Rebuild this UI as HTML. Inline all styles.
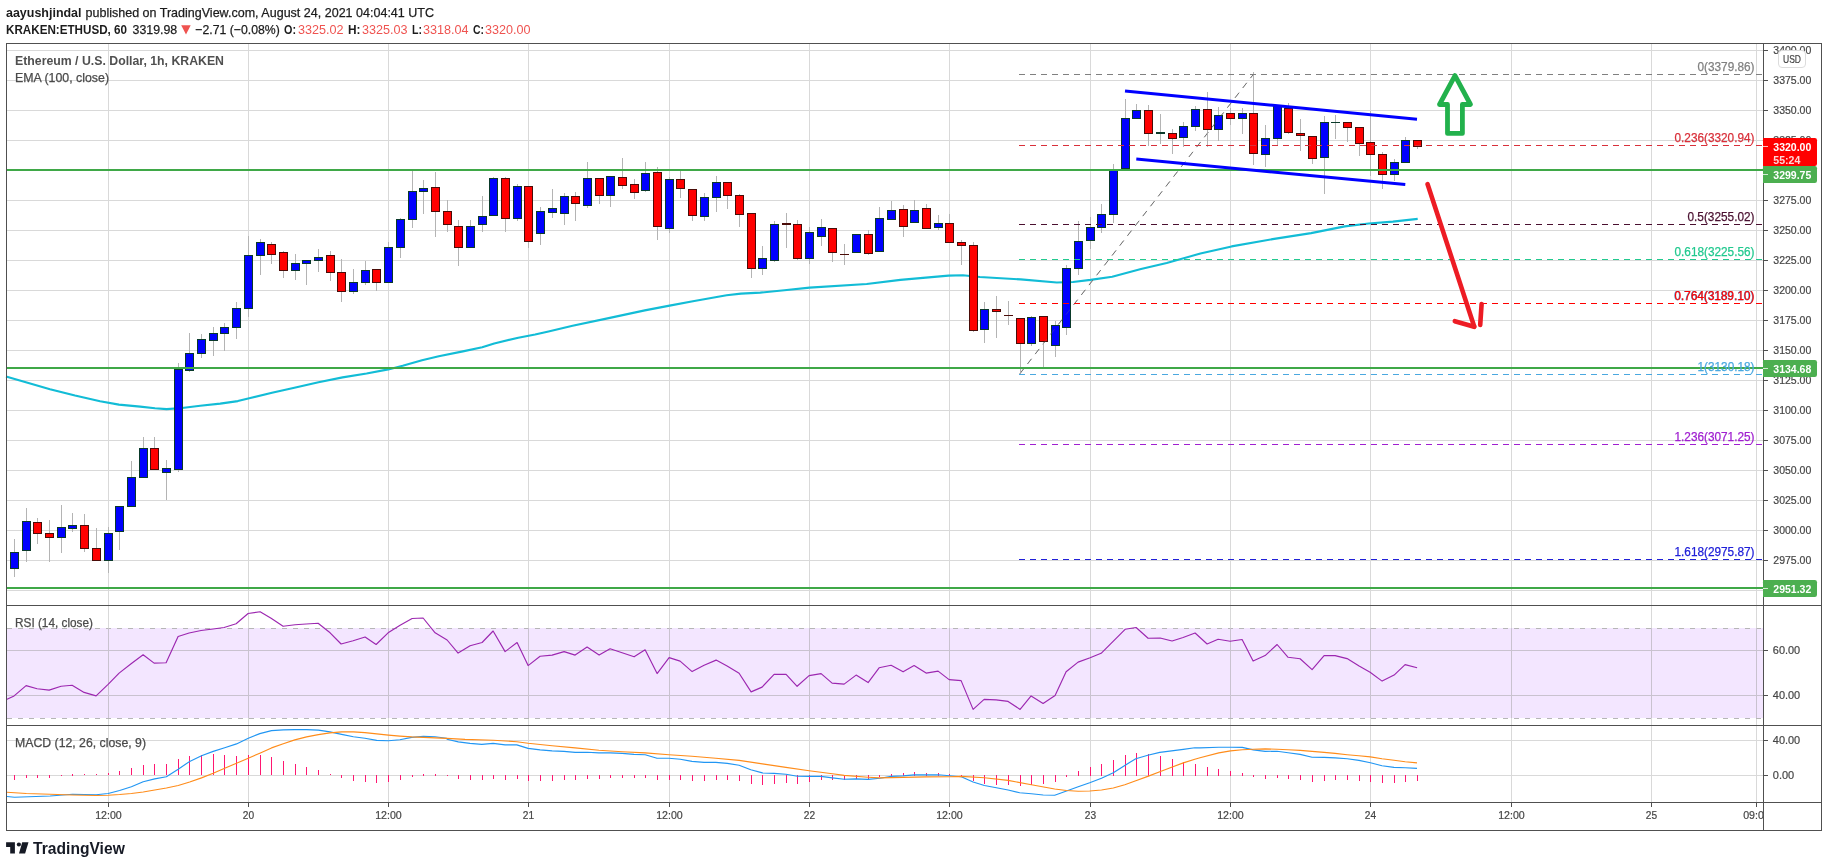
<!DOCTYPE html><html><head><meta charset="utf-8"><title>ETHUSD</title>
<style>html,body{margin:0;padding:0;background:#fff}body{width:1828px;height:867px;overflow:hidden;font-family:"Liberation Sans",sans-serif}svg{display:block;position:absolute;left:0;top:0;will-change:transform}text{font-family:"Liberation Sans",sans-serif}</style></head><body>
<svg width="1828" height="867" viewBox="0 0 1828 867">
<rect x="0" y="0" width="1828" height="867" fill="#fff"/>
<g shape-rendering="crispEdges" stroke="#d9d9d9" stroke-width="1">
<line x1="108.5" y1="44" x2="108.5" y2="802"/>
<line x1="248.5" y1="44" x2="248.5" y2="802"/>
<line x1="388.5" y1="44" x2="388.5" y2="802"/>
<line x1="528.5" y1="44" x2="528.5" y2="802"/>
<line x1="669.5" y1="44" x2="669.5" y2="802"/>
<line x1="809.5" y1="44" x2="809.5" y2="802"/>
<line x1="949.5" y1="44" x2="949.5" y2="802"/>
<line x1="1090.5" y1="44" x2="1090.5" y2="802"/>
<line x1="1230.5" y1="44" x2="1230.5" y2="802"/>
<line x1="1370.5" y1="44" x2="1370.5" y2="802"/>
<line x1="1511.5" y1="44" x2="1511.5" y2="802"/>
<line x1="1651.5" y1="44" x2="1651.5" y2="802"/>
<line x1="1756.5" y1="44" x2="1756.5" y2="802"/>
<line x1="7" y1="50.5" x2="1763" y2="50.5"/>
<line x1="7" y1="80.5" x2="1763" y2="80.5"/>
<line x1="7" y1="110.5" x2="1763" y2="110.5"/>
<line x1="7" y1="140.5" x2="1763" y2="140.5"/>
<line x1="7" y1="170.5" x2="1763" y2="170.5"/>
<line x1="7" y1="200.5" x2="1763" y2="200.5"/>
<line x1="7" y1="230.5" x2="1763" y2="230.5"/>
<line x1="7" y1="260.5" x2="1763" y2="260.5"/>
<line x1="7" y1="290.5" x2="1763" y2="290.5"/>
<line x1="7" y1="320.5" x2="1763" y2="320.5"/>
<line x1="7" y1="350.5" x2="1763" y2="350.5"/>
<line x1="7" y1="380.5" x2="1763" y2="380.5"/>
<line x1="7" y1="410.5" x2="1763" y2="410.5"/>
<line x1="7" y1="440.5" x2="1763" y2="440.5"/>
<line x1="7" y1="470.5" x2="1763" y2="470.5"/>
<line x1="7" y1="500.5" x2="1763" y2="500.5"/>
<line x1="7" y1="530.5" x2="1763" y2="530.5"/>
<line x1="7" y1="560.5" x2="1763" y2="560.5"/>
<line x1="7" y1="590.5" x2="1763" y2="590.5"/>
</g>
<rect x="7" y="628" width="1756" height="90" fill="#9b30ff" fill-opacity="0.12"/>
<g shape-rendering="crispEdges" stroke="#c9c2cf" stroke-width="1">
<line x1="7" y1="650.5" x2="1763" y2="650.5"/>
<line x1="7" y1="695.5" x2="1763" y2="695.5"/>
</g>
<g shape-rendering="crispEdges" stroke="#d9d9d9" stroke-width="1">
<line x1="7" y1="740.5" x2="1763" y2="740.5"/>
<line x1="7" y1="775.5" x2="1763" y2="775.5"/>
</g>
<g shape-rendering="crispEdges" stroke="#b6b6b6" stroke-width="1" stroke-dasharray="5,6">
<line x1="7" y1="628.5" x2="1763" y2="628.5"/>
<line x1="7" y1="718.5" x2="1763" y2="718.5"/>
</g>
<g shape-rendering="crispEdges" stroke="#c9c2cf" stroke-width="1">
<line x1="108.5" y1="628" x2="108.5" y2="718"/>
<line x1="248.5" y1="628" x2="248.5" y2="718"/>
<line x1="388.5" y1="628" x2="388.5" y2="718"/>
<line x1="528.5" y1="628" x2="528.5" y2="718"/>
<line x1="669.5" y1="628" x2="669.5" y2="718"/>
<line x1="809.5" y1="628" x2="809.5" y2="718"/>
<line x1="949.5" y1="628" x2="949.5" y2="718"/>
<line x1="1090.5" y1="628" x2="1090.5" y2="718"/>
<line x1="1230.5" y1="628" x2="1230.5" y2="718"/>
<line x1="1370.5" y1="628" x2="1370.5" y2="718"/>
<line x1="1511.5" y1="628" x2="1511.5" y2="718"/>
<line x1="1651.5" y1="628" x2="1651.5" y2="718"/>
<line x1="1756.5" y1="628" x2="1756.5" y2="718"/>
</g>
<polyline fill="none" stroke="#12bcd6" stroke-width="2.1" stroke-linejoin="round" points="6.0,376.5 25.0,382.1 50.0,389.3 75.0,395.6 100.1,401.3 118.9,404.6 140.2,406.6 155.0,408.2 166.6,409.1 182.0,408.0 200.2,405.8 220.2,403.6 237.8,401.1 250.3,398.0 272.0,392.8 294.4,387.7 318.5,382.3 342.6,377.4 366.6,373.5 388.3,369.4 402.7,365.8 422.0,360.3 438.8,356.2 462.9,351.4 482.2,347.3 494.2,343.4 518.3,337.7 535.1,334.5 548.5,331.4 572.6,325.8 608.7,318.1 644.8,310.4 669.6,305.6 692.9,301.3 726.6,295.3 741.0,293.6 760.3,292.6 784.4,290.2 809.6,287.6 866.7,284.0 900.4,279.9 948.5,275.6 962.9,275.3 979.8,277.0 1020.7,279.4 1056.8,282.5 1073.0,282.0 1090.5,279.9 1112.2,276.8 1141.0,269.1 1166.7,263.0 1200.4,253.6 1231.6,246.4 1272.6,239.1 1311.1,233.1 1344.8,226.4 1368.8,223.5 1392.9,221.6 1417.7,218.9"/>
<line x1="1019.8" y1="373.8" x2="1253.4" y2="74.3" stroke="#727272" stroke-width="1.0" stroke-dasharray="6.5,6"/>
<g shape-rendering="crispEdges">
<rect x="14" y="539" width="1" height="38" fill="#b4b4b4"/>
<rect x="26" y="508" width="1" height="54" fill="#b4b4b4"/>
<rect x="37" y="518" width="1" height="26" fill="#b4b4b4"/>
<rect x="49" y="520" width="1" height="42" fill="#b4b4b4"/>
<rect x="61" y="505" width="1" height="48" fill="#b4b4b4"/>
<rect x="72" y="513" width="1" height="19" fill="#b4b4b4"/>
<rect x="84" y="514" width="1" height="38" fill="#b4b4b4"/>
<rect x="96" y="528" width="1" height="33" fill="#b4b4b4"/>
<rect x="108" y="527" width="1" height="46" fill="#b4b4b4"/>
<rect x="119" y="506" width="1" height="44" fill="#b4b4b4"/>
<rect x="131" y="461" width="1" height="46" fill="#b4b4b4"/>
<rect x="143" y="437" width="1" height="41" fill="#b4b4b4"/>
<rect x="154" y="437" width="1" height="33" fill="#b4b4b4"/>
<rect x="166" y="460" width="1" height="40" fill="#b4b4b4"/>
<rect x="178" y="363" width="1" height="109" fill="#b4b4b4"/>
<rect x="189" y="333" width="1" height="39" fill="#b4b4b4"/>
<rect x="201" y="334" width="1" height="24" fill="#b4b4b4"/>
<rect x="213" y="327" width="1" height="29" fill="#b4b4b4"/>
<rect x="224" y="323" width="1" height="28" fill="#b4b4b4"/>
<rect x="236" y="302" width="1" height="37" fill="#b4b4b4"/>
<rect x="248" y="236" width="1" height="81" fill="#b4b4b4"/>
<rect x="260" y="239" width="1" height="36" fill="#b4b4b4"/>
<rect x="271" y="242" width="1" height="22" fill="#b4b4b4"/>
<rect x="283" y="251" width="1" height="27" fill="#b4b4b4"/>
<rect x="295" y="254" width="1" height="26" fill="#b4b4b4"/>
<rect x="306" y="260" width="1" height="25" fill="#b4b4b4"/>
<rect x="318" y="249" width="1" height="23" fill="#b4b4b4"/>
<rect x="330" y="251" width="1" height="30" fill="#b4b4b4"/>
<rect x="341" y="259" width="1" height="43" fill="#b4b4b4"/>
<rect x="353" y="269" width="1" height="25" fill="#b4b4b4"/>
<rect x="365" y="261" width="1" height="24" fill="#b4b4b4"/>
<rect x="376" y="269" width="1" height="22" fill="#b4b4b4"/>
<rect x="388" y="242" width="1" height="41" fill="#b4b4b4"/>
<rect x="400" y="218" width="1" height="40" fill="#b4b4b4"/>
<rect x="412" y="171" width="1" height="57" fill="#b4b4b4"/>
<rect x="423" y="180" width="1" height="34" fill="#b4b4b4"/>
<rect x="435" y="172" width="1" height="65" fill="#b4b4b4"/>
<rect x="447" y="200" width="1" height="32" fill="#b4b4b4"/>
<rect x="458" y="220" width="1" height="46" fill="#b4b4b4"/>
<rect x="470" y="220" width="1" height="28" fill="#b4b4b4"/>
<rect x="482" y="196" width="1" height="36" fill="#b4b4b4"/>
<rect x="493" y="177" width="1" height="39" fill="#b4b4b4"/>
<rect x="505" y="177" width="1" height="55" fill="#b4b4b4"/>
<rect x="517" y="184" width="1" height="37" fill="#b4b4b4"/>
<rect x="528" y="186" width="1" height="62" fill="#b4b4b4"/>
<rect x="540" y="207" width="1" height="38" fill="#b4b4b4"/>
<rect x="552" y="189" width="1" height="29" fill="#b4b4b4"/>
<rect x="564" y="193" width="1" height="32" fill="#b4b4b4"/>
<rect x="575" y="192" width="1" height="29" fill="#b4b4b4"/>
<rect x="587" y="162" width="1" height="46" fill="#b4b4b4"/>
<rect x="599" y="178" width="1" height="26" fill="#b4b4b4"/>
<rect x="610" y="176" width="1" height="31" fill="#b4b4b4"/>
<rect x="622" y="158" width="1" height="31" fill="#b4b4b4"/>
<rect x="634" y="179" width="1" height="20" fill="#b4b4b4"/>
<rect x="645" y="162" width="1" height="30" fill="#b4b4b4"/>
<rect x="657" y="167" width="1" height="73" fill="#b4b4b4"/>
<rect x="669" y="177" width="1" height="56" fill="#b4b4b4"/>
<rect x="680" y="171" width="1" height="27" fill="#b4b4b4"/>
<rect x="692" y="189" width="1" height="32" fill="#b4b4b4"/>
<rect x="704" y="193" width="1" height="28" fill="#b4b4b4"/>
<rect x="716" y="176" width="1" height="36" fill="#b4b4b4"/>
<rect x="727" y="182" width="1" height="27" fill="#b4b4b4"/>
<rect x="739" y="194" width="1" height="33" fill="#b4b4b4"/>
<rect x="751" y="213" width="1" height="65" fill="#b4b4b4"/>
<rect x="762" y="246" width="1" height="29" fill="#b4b4b4"/>
<rect x="774" y="221" width="1" height="41" fill="#b4b4b4"/>
<rect x="786" y="213" width="1" height="35" fill="#b4b4b4"/>
<rect x="797" y="220" width="1" height="40" fill="#b4b4b4"/>
<rect x="809" y="227" width="1" height="37" fill="#b4b4b4"/>
<rect x="821" y="219" width="1" height="27" fill="#b4b4b4"/>
<rect x="832" y="228" width="1" height="34" fill="#b4b4b4"/>
<rect x="844" y="244" width="1" height="21" fill="#b4b4b4"/>
<rect x="856" y="234" width="1" height="19" fill="#b4b4b4"/>
<rect x="868" y="230" width="1" height="25" fill="#b4b4b4"/>
<rect x="879" y="207" width="1" height="45" fill="#b4b4b4"/>
<rect x="891" y="201" width="1" height="19" fill="#b4b4b4"/>
<rect x="903" y="205" width="1" height="32" fill="#b4b4b4"/>
<rect x="914" y="200" width="1" height="23" fill="#b4b4b4"/>
<rect x="926" y="204" width="1" height="25" fill="#b4b4b4"/>
<rect x="938" y="215" width="1" height="15" fill="#b4b4b4"/>
<rect x="949" y="214" width="1" height="29" fill="#b4b4b4"/>
<rect x="961" y="240" width="1" height="25" fill="#b4b4b4"/>
<rect x="973" y="242" width="1" height="90" fill="#b4b4b4"/>
<rect x="984" y="302" width="1" height="41" fill="#b4b4b4"/>
<rect x="996" y="296" width="1" height="42" fill="#b4b4b4"/>
<rect x="1008" y="301" width="1" height="24" fill="#b4b4b4"/>
<rect x="1020" y="318" width="1" height="56" fill="#b4b4b4"/>
<rect x="1031" y="316" width="1" height="30" fill="#b4b4b4"/>
<rect x="1043" y="316" width="1" height="52" fill="#b4b4b4"/>
<rect x="1055" y="321" width="1" height="36" fill="#b4b4b4"/>
<rect x="1066" y="265" width="1" height="70" fill="#b4b4b4"/>
<rect x="1078" y="221" width="1" height="54" fill="#b4b4b4"/>
<rect x="1090" y="217" width="1" height="32" fill="#b4b4b4"/>
<rect x="1101" y="204" width="1" height="29" fill="#b4b4b4"/>
<rect x="1113" y="164" width="1" height="59" fill="#b4b4b4"/>
<rect x="1125" y="99" width="1" height="71" fill="#b4b4b4"/>
<rect x="1136" y="104" width="1" height="15" fill="#b4b4b4"/>
<rect x="1148" y="105" width="1" height="41" fill="#b4b4b4"/>
<rect x="1160" y="114" width="1" height="30" fill="#b4b4b4"/>
<rect x="1172" y="129" width="1" height="25" fill="#b4b4b4"/>
<rect x="1183" y="122" width="1" height="25" fill="#b4b4b4"/>
<rect x="1195" y="106" width="1" height="25" fill="#b4b4b4"/>
<rect x="1207" y="92" width="1" height="55" fill="#b4b4b4"/>
<rect x="1218" y="107" width="1" height="34" fill="#b4b4b4"/>
<rect x="1230" y="108" width="1" height="17" fill="#b4b4b4"/>
<rect x="1242" y="108" width="1" height="26" fill="#b4b4b4"/>
<rect x="1253" y="72" width="1" height="93" fill="#b4b4b4"/>
<rect x="1265" y="125" width="1" height="42" fill="#b4b4b4"/>
<rect x="1277" y="105" width="1" height="41" fill="#b4b4b4"/>
<rect x="1288" y="103" width="1" height="31" fill="#b4b4b4"/>
<rect x="1300" y="119" width="1" height="32" fill="#b4b4b4"/>
<rect x="1312" y="136" width="1" height="28" fill="#b4b4b4"/>
<rect x="1324" y="116" width="1" height="78" fill="#b4b4b4"/>
<rect x="1335" y="115" width="1" height="24" fill="#b4b4b4"/>
<rect x="1347" y="122" width="1" height="20" fill="#b4b4b4"/>
<rect x="1359" y="127" width="1" height="29" fill="#b4b4b4"/>
<rect x="1370" y="111" width="1" height="65" fill="#b4b4b4"/>
<rect x="1382" y="152" width="1" height="37" fill="#b4b4b4"/>
<rect x="1394" y="159" width="1" height="22" fill="#b4b4b4"/>
<rect x="1405" y="137" width="1" height="26" fill="#b4b4b4"/>
<rect x="1417" y="140" width="1" height="9" fill="#b4b4b4"/>
<rect x="10" y="552" width="9" height="17" fill="#0a3a2a"/>
<rect x="11" y="553" width="7" height="15" fill="#0000ff"/>
<rect x="22" y="521" width="9" height="30" fill="#0a3a2a"/>
<rect x="23" y="522" width="7" height="28" fill="#0000ff"/>
<rect x="33" y="522" width="9" height="12" fill="#4a0c08"/>
<rect x="34" y="523" width="7" height="10" fill="#ff0000"/>
<rect x="45" y="533" width="9" height="5" fill="#4a0c08"/>
<rect x="46" y="534" width="7" height="3" fill="#ff0000"/>
<rect x="57" y="527" width="9" height="11" fill="#0a3a2a"/>
<rect x="58" y="528" width="7" height="9" fill="#0000ff"/>
<rect x="68" y="525" width="9" height="4" fill="#0a3a2a"/>
<rect x="69" y="526" width="7" height="2" fill="#0000ff"/>
<rect x="80" y="525" width="9" height="24" fill="#4a0c08"/>
<rect x="81" y="526" width="7" height="22" fill="#ff0000"/>
<rect x="92" y="548" width="9" height="13" fill="#4a0c08"/>
<rect x="93" y="549" width="7" height="11" fill="#ff0000"/>
<rect x="104" y="533" width="9" height="28" fill="#0a3a2a"/>
<rect x="105" y="534" width="7" height="26" fill="#0000ff"/>
<rect x="115" y="506" width="9" height="26" fill="#0a3a2a"/>
<rect x="116" y="507" width="7" height="24" fill="#0000ff"/>
<rect x="127" y="477" width="9" height="30" fill="#0a3a2a"/>
<rect x="128" y="478" width="7" height="28" fill="#0000ff"/>
<rect x="139" y="448" width="9" height="30" fill="#0a3a2a"/>
<rect x="140" y="449" width="7" height="28" fill="#0000ff"/>
<rect x="150" y="448" width="9" height="22" fill="#4a0c08"/>
<rect x="151" y="449" width="7" height="20" fill="#ff0000"/>
<rect x="162" y="468" width="9" height="5" fill="#0a3a2a"/>
<rect x="163" y="469" width="7" height="3" fill="#0000ff"/>
<rect x="174" y="369" width="9" height="101" fill="#0a3a2a"/>
<rect x="175" y="370" width="7" height="99" fill="#0000ff"/>
<rect x="185" y="353" width="9" height="18" fill="#0a3a2a"/>
<rect x="186" y="354" width="7" height="16" fill="#0000ff"/>
<rect x="197" y="339" width="9" height="15" fill="#0a3a2a"/>
<rect x="198" y="340" width="7" height="13" fill="#0000ff"/>
<rect x="209" y="333" width="9" height="8" fill="#0a3a2a"/>
<rect x="210" y="334" width="7" height="6" fill="#0000ff"/>
<rect x="220" y="327" width="9" height="7" fill="#0a3a2a"/>
<rect x="221" y="328" width="7" height="5" fill="#0000ff"/>
<rect x="232" y="308" width="9" height="20" fill="#0a3a2a"/>
<rect x="233" y="309" width="7" height="18" fill="#0000ff"/>
<rect x="244" y="255" width="9" height="54" fill="#0a3a2a"/>
<rect x="245" y="256" width="7" height="52" fill="#0000ff"/>
<rect x="256" y="242" width="9" height="14" fill="#0a3a2a"/>
<rect x="257" y="243" width="7" height="12" fill="#0000ff"/>
<rect x="267" y="244" width="9" height="11" fill="#4a0c08"/>
<rect x="268" y="245" width="7" height="9" fill="#ff0000"/>
<rect x="279" y="252" width="9" height="19" fill="#4a0c08"/>
<rect x="280" y="253" width="7" height="17" fill="#ff0000"/>
<rect x="291" y="263" width="9" height="8" fill="#0a3a2a"/>
<rect x="292" y="264" width="7" height="6" fill="#0000ff"/>
<rect x="302" y="260" width="9" height="4" fill="#0a3a2a"/>
<rect x="303" y="261" width="7" height="2" fill="#0000ff"/>
<rect x="314" y="257" width="9" height="4" fill="#0a3a2a"/>
<rect x="315" y="258" width="7" height="2" fill="#0000ff"/>
<rect x="326" y="255" width="9" height="18" fill="#4a0c08"/>
<rect x="327" y="256" width="7" height="16" fill="#ff0000"/>
<rect x="337" y="272" width="9" height="20" fill="#4a0c08"/>
<rect x="338" y="273" width="7" height="18" fill="#ff0000"/>
<rect x="349" y="282" width="9" height="10" fill="#0a3a2a"/>
<rect x="350" y="283" width="7" height="8" fill="#0000ff"/>
<rect x="361" y="270" width="9" height="13" fill="#0a3a2a"/>
<rect x="362" y="271" width="7" height="11" fill="#0000ff"/>
<rect x="372" y="269" width="9" height="14" fill="#4a0c08"/>
<rect x="373" y="270" width="7" height="12" fill="#ff0000"/>
<rect x="384" y="247" width="9" height="36" fill="#0a3a2a"/>
<rect x="385" y="248" width="7" height="34" fill="#0000ff"/>
<rect x="396" y="219" width="9" height="29" fill="#0a3a2a"/>
<rect x="397" y="220" width="7" height="27" fill="#0000ff"/>
<rect x="408" y="191" width="9" height="29" fill="#0a3a2a"/>
<rect x="409" y="192" width="7" height="27" fill="#0000ff"/>
<rect x="419" y="188" width="9" height="4" fill="#0a3a2a"/>
<rect x="420" y="189" width="7" height="2" fill="#0000ff"/>
<rect x="431" y="187" width="9" height="25" fill="#4a0c08"/>
<rect x="432" y="188" width="7" height="23" fill="#ff0000"/>
<rect x="443" y="211" width="9" height="14" fill="#4a0c08"/>
<rect x="444" y="212" width="7" height="12" fill="#ff0000"/>
<rect x="454" y="226" width="9" height="22" fill="#4a0c08"/>
<rect x="455" y="227" width="7" height="20" fill="#ff0000"/>
<rect x="466" y="226" width="9" height="22" fill="#0a3a2a"/>
<rect x="467" y="227" width="7" height="20" fill="#0000ff"/>
<rect x="478" y="216" width="9" height="9" fill="#0a3a2a"/>
<rect x="479" y="217" width="7" height="7" fill="#0000ff"/>
<rect x="489" y="178" width="9" height="38" fill="#0a3a2a"/>
<rect x="490" y="179" width="7" height="36" fill="#0000ff"/>
<rect x="501" y="178" width="9" height="41" fill="#4a0c08"/>
<rect x="502" y="179" width="7" height="39" fill="#ff0000"/>
<rect x="513" y="186" width="9" height="33" fill="#0a3a2a"/>
<rect x="514" y="187" width="7" height="31" fill="#0000ff"/>
<rect x="524" y="186" width="9" height="56" fill="#4a0c08"/>
<rect x="525" y="187" width="7" height="54" fill="#ff0000"/>
<rect x="536" y="211" width="9" height="23" fill="#0a3a2a"/>
<rect x="537" y="212" width="7" height="21" fill="#0000ff"/>
<rect x="548" y="208" width="9" height="5" fill="#0a3a2a"/>
<rect x="549" y="209" width="7" height="3" fill="#0000ff"/>
<rect x="560" y="196" width="9" height="18" fill="#0a3a2a"/>
<rect x="561" y="197" width="7" height="16" fill="#0000ff"/>
<rect x="571" y="196" width="9" height="8" fill="#4a0c08"/>
<rect x="572" y="197" width="7" height="6" fill="#ff0000"/>
<rect x="583" y="178" width="9" height="28" fill="#0a3a2a"/>
<rect x="584" y="179" width="7" height="26" fill="#0000ff"/>
<rect x="595" y="178" width="9" height="18" fill="#4a0c08"/>
<rect x="596" y="179" width="7" height="16" fill="#ff0000"/>
<rect x="606" y="176" width="9" height="20" fill="#0a3a2a"/>
<rect x="607" y="177" width="7" height="18" fill="#0000ff"/>
<rect x="618" y="177" width="9" height="9" fill="#4a0c08"/>
<rect x="619" y="178" width="7" height="7" fill="#ff0000"/>
<rect x="630" y="184" width="9" height="9" fill="#4a0c08"/>
<rect x="631" y="185" width="7" height="7" fill="#ff0000"/>
<rect x="641" y="173" width="9" height="18" fill="#0a3a2a"/>
<rect x="642" y="174" width="7" height="16" fill="#0000ff"/>
<rect x="653" y="172" width="9" height="55" fill="#4a0c08"/>
<rect x="654" y="173" width="7" height="53" fill="#ff0000"/>
<rect x="665" y="179" width="9" height="50" fill="#0a3a2a"/>
<rect x="666" y="180" width="7" height="48" fill="#0000ff"/>
<rect x="676" y="179" width="9" height="10" fill="#4a0c08"/>
<rect x="677" y="180" width="7" height="8" fill="#ff0000"/>
<rect x="688" y="189" width="9" height="27" fill="#4a0c08"/>
<rect x="689" y="190" width="7" height="25" fill="#ff0000"/>
<rect x="700" y="197" width="9" height="20" fill="#0a3a2a"/>
<rect x="701" y="198" width="7" height="18" fill="#0000ff"/>
<rect x="712" y="182" width="9" height="16" fill="#0a3a2a"/>
<rect x="713" y="183" width="7" height="14" fill="#0000ff"/>
<rect x="723" y="182" width="9" height="14" fill="#4a0c08"/>
<rect x="724" y="183" width="7" height="12" fill="#ff0000"/>
<rect x="735" y="195" width="9" height="20" fill="#4a0c08"/>
<rect x="736" y="196" width="7" height="18" fill="#ff0000"/>
<rect x="747" y="213" width="9" height="56" fill="#4a0c08"/>
<rect x="748" y="214" width="7" height="54" fill="#ff0000"/>
<rect x="758" y="258" width="9" height="11" fill="#0a3a2a"/>
<rect x="759" y="259" width="7" height="9" fill="#0000ff"/>
<rect x="770" y="224" width="9" height="37" fill="#0a3a2a"/>
<rect x="771" y="225" width="7" height="35" fill="#0000ff"/>
<rect x="782" y="223" width="9" height="2" fill="#4a0c08"/>
<rect x="793" y="224" width="9" height="35" fill="#4a0c08"/>
<rect x="794" y="225" width="7" height="33" fill="#ff0000"/>
<rect x="805" y="232" width="9" height="27" fill="#0a3a2a"/>
<rect x="806" y="233" width="7" height="25" fill="#0000ff"/>
<rect x="817" y="227" width="9" height="10" fill="#0a3a2a"/>
<rect x="818" y="228" width="7" height="8" fill="#0000ff"/>
<rect x="828" y="228" width="9" height="25" fill="#4a0c08"/>
<rect x="829" y="229" width="7" height="23" fill="#ff0000"/>
<rect x="840" y="254" width="9" height="1" fill="#4a0c08"/>
<rect x="852" y="234" width="9" height="19" fill="#0a3a2a"/>
<rect x="853" y="235" width="7" height="17" fill="#0000ff"/>
<rect x="864" y="234" width="9" height="20" fill="#4a0c08"/>
<rect x="865" y="235" width="7" height="18" fill="#ff0000"/>
<rect x="875" y="218" width="9" height="34" fill="#0a3a2a"/>
<rect x="876" y="219" width="7" height="32" fill="#0000ff"/>
<rect x="887" y="210" width="9" height="10" fill="#0a3a2a"/>
<rect x="888" y="211" width="7" height="8" fill="#0000ff"/>
<rect x="899" y="209" width="9" height="18" fill="#4a0c08"/>
<rect x="900" y="210" width="7" height="16" fill="#ff0000"/>
<rect x="910" y="210" width="9" height="13" fill="#0a3a2a"/>
<rect x="911" y="211" width="7" height="11" fill="#0000ff"/>
<rect x="922" y="208" width="9" height="21" fill="#4a0c08"/>
<rect x="923" y="209" width="7" height="19" fill="#ff0000"/>
<rect x="934" y="223" width="9" height="5" fill="#0a3a2a"/>
<rect x="935" y="224" width="7" height="3" fill="#0000ff"/>
<rect x="945" y="223" width="9" height="20" fill="#4a0c08"/>
<rect x="946" y="224" width="7" height="18" fill="#ff0000"/>
<rect x="957" y="242" width="9" height="4" fill="#4a0c08"/>
<rect x="958" y="243" width="7" height="2" fill="#ff0000"/>
<rect x="969" y="245" width="9" height="86" fill="#4a0c08"/>
<rect x="970" y="246" width="7" height="84" fill="#ff0000"/>
<rect x="980" y="309" width="9" height="21" fill="#0a3a2a"/>
<rect x="981" y="310" width="7" height="19" fill="#0000ff"/>
<rect x="992" y="309" width="9" height="3" fill="#4a0c08"/>
<rect x="993" y="310" width="7" height="1" fill="#ff0000"/>
<rect x="1004" y="315" width="9" height="1" fill="#4a0c08"/>
<rect x="1016" y="318" width="9" height="26" fill="#4a0c08"/>
<rect x="1017" y="319" width="7" height="24" fill="#ff0000"/>
<rect x="1027" y="317" width="9" height="27" fill="#0a3a2a"/>
<rect x="1028" y="318" width="7" height="25" fill="#0000ff"/>
<rect x="1039" y="316" width="9" height="26" fill="#4a0c08"/>
<rect x="1040" y="317" width="7" height="24" fill="#ff0000"/>
<rect x="1051" y="325" width="9" height="21" fill="#0a3a2a"/>
<rect x="1052" y="326" width="7" height="19" fill="#0000ff"/>
<rect x="1062" y="268" width="9" height="60" fill="#0a3a2a"/>
<rect x="1063" y="269" width="7" height="58" fill="#0000ff"/>
<rect x="1074" y="241" width="9" height="28" fill="#0a3a2a"/>
<rect x="1075" y="242" width="7" height="26" fill="#0000ff"/>
<rect x="1086" y="227" width="9" height="14" fill="#0a3a2a"/>
<rect x="1087" y="228" width="7" height="12" fill="#0000ff"/>
<rect x="1097" y="214" width="9" height="14" fill="#0a3a2a"/>
<rect x="1098" y="215" width="7" height="12" fill="#0000ff"/>
<rect x="1109" y="170" width="9" height="45" fill="#0a3a2a"/>
<rect x="1110" y="171" width="7" height="43" fill="#0000ff"/>
<rect x="1121" y="118" width="9" height="51" fill="#0a3a2a"/>
<rect x="1122" y="119" width="7" height="49" fill="#0000ff"/>
<rect x="1132" y="110" width="9" height="9" fill="#0a3a2a"/>
<rect x="1133" y="111" width="7" height="7" fill="#0000ff"/>
<rect x="1144" y="110" width="9" height="24" fill="#4a0c08"/>
<rect x="1145" y="111" width="7" height="22" fill="#ff0000"/>
<rect x="1156" y="132" width="9" height="2" fill="#0a3a2a"/>
<rect x="1168" y="133" width="9" height="6" fill="#4a0c08"/>
<rect x="1169" y="134" width="7" height="4" fill="#ff0000"/>
<rect x="1179" y="126" width="9" height="12" fill="#0a3a2a"/>
<rect x="1180" y="127" width="7" height="10" fill="#0000ff"/>
<rect x="1191" y="109" width="9" height="18" fill="#0a3a2a"/>
<rect x="1192" y="110" width="7" height="16" fill="#0000ff"/>
<rect x="1203" y="109" width="9" height="21" fill="#4a0c08"/>
<rect x="1204" y="110" width="7" height="19" fill="#ff0000"/>
<rect x="1214" y="115" width="9" height="15" fill="#0a3a2a"/>
<rect x="1215" y="116" width="7" height="13" fill="#0000ff"/>
<rect x="1226" y="113" width="9" height="6" fill="#4a0c08"/>
<rect x="1227" y="114" width="7" height="4" fill="#ff0000"/>
<rect x="1238" y="113" width="9" height="6" fill="#0a3a2a"/>
<rect x="1239" y="114" width="7" height="4" fill="#0000ff"/>
<rect x="1249" y="113" width="9" height="41" fill="#4a0c08"/>
<rect x="1250" y="114" width="7" height="39" fill="#ff0000"/>
<rect x="1261" y="138" width="9" height="17" fill="#0a3a2a"/>
<rect x="1262" y="139" width="7" height="15" fill="#0000ff"/>
<rect x="1273" y="105" width="9" height="34" fill="#0a3a2a"/>
<rect x="1274" y="106" width="7" height="32" fill="#0000ff"/>
<rect x="1284" y="108" width="9" height="25" fill="#4a0c08"/>
<rect x="1285" y="109" width="7" height="23" fill="#ff0000"/>
<rect x="1296" y="133" width="9" height="3" fill="#4a0c08"/>
<rect x="1297" y="134" width="7" height="1" fill="#ff0000"/>
<rect x="1308" y="136" width="9" height="23" fill="#4a0c08"/>
<rect x="1309" y="137" width="7" height="21" fill="#ff0000"/>
<rect x="1320" y="122" width="9" height="36" fill="#0a3a2a"/>
<rect x="1321" y="123" width="7" height="34" fill="#0000ff"/>
<rect x="1331" y="122" width="9" height="1" fill="#0a3a2a"/>
<rect x="1343" y="122" width="9" height="6" fill="#4a0c08"/>
<rect x="1344" y="123" width="7" height="4" fill="#ff0000"/>
<rect x="1355" y="127" width="9" height="17" fill="#4a0c08"/>
<rect x="1356" y="128" width="7" height="15" fill="#ff0000"/>
<rect x="1366" y="142" width="9" height="13" fill="#4a0c08"/>
<rect x="1367" y="143" width="7" height="11" fill="#ff0000"/>
<rect x="1378" y="154" width="9" height="21" fill="#4a0c08"/>
<rect x="1379" y="155" width="7" height="19" fill="#ff0000"/>
<rect x="1390" y="162" width="9" height="13" fill="#0a3a2a"/>
<rect x="1391" y="163" width="7" height="11" fill="#0000ff"/>
<rect x="1401" y="140" width="9" height="23" fill="#0a3a2a"/>
<rect x="1402" y="141" width="7" height="21" fill="#0000ff"/>
<rect x="1413" y="140" width="9" height="7" fill="#4a0c08"/>
<rect x="1414" y="141" width="7" height="5" fill="#ff0000"/>
</g>
<line x1="1019" y1="74.5" x2="1763" y2="74.5" stroke="#808080" stroke-width="1" stroke-dasharray="5.5,5.5" shape-rendering="crispEdges"/>
<line x1="1019" y1="145.5" x2="1763" y2="145.5" stroke="#d9303a" stroke-width="1" stroke-dasharray="5.5,5.5" shape-rendering="crispEdges"/>
<line x1="1019" y1="224.5" x2="1763" y2="224.5" stroke="#4a1030" stroke-width="1" stroke-dasharray="5.5,5.5" shape-rendering="crispEdges"/>
<line x1="1019" y1="259.5" x2="1763" y2="259.5" stroke="#22c98f" stroke-width="1" stroke-dasharray="5.5,5.5" shape-rendering="crispEdges"/>
<line x1="1019" y1="303.5" x2="1763" y2="303.5" stroke="#ff0000" stroke-width="1" stroke-dasharray="5.5,5.5" shape-rendering="crispEdges"/>
<line x1="1019" y1="374.5" x2="1763" y2="374.5" stroke="#4aa8e0" stroke-width="1" stroke-dasharray="5.5,5.5" shape-rendering="crispEdges"/>
<line x1="1019" y1="444.5" x2="1763" y2="444.5" stroke="#a020d0" stroke-width="1" stroke-dasharray="5.5,5.5" shape-rendering="crispEdges"/>
<line x1="1019" y1="559.5" x2="1763" y2="559.5" stroke="#2020d8" stroke-width="1" stroke-dasharray="5.5,5.5" shape-rendering="crispEdges"/>
<line x1="1019.8" y1="373.8" x2="1253.4" y2="74.3" stroke="#727272" stroke-opacity="0.35" stroke-width="1.0" stroke-dasharray="6.5,6"/>
<rect x="7" y="169" width="1756" height="2" fill="#3fa847" shape-rendering="crispEdges"/>
<rect x="7" y="367" width="1756" height="2" fill="#3fa847" shape-rendering="crispEdges"/>
<rect x="7" y="587" width="1756" height="2" fill="#3fa847" shape-rendering="crispEdges"/>
<line x1="1125" y1="90.9" x2="1417" y2="119.3" stroke="#0000ff" stroke-width="3"/>
<line x1="1136.3" y1="159" x2="1405.3" y2="184.6" stroke="#0000ff" stroke-width="3"/>
<path d="M1455,75.6 L1470.5,104.5 L1462.4,104.5 L1462.4,133.4 L1447.5,133.4 L1447.5,104.5 L1439.5,104.5 Z" fill="none" stroke="#22b14c" stroke-width="4.8" stroke-linejoin="round"/>
<g stroke="#ed1c24" stroke-width="4.6" stroke-linecap="round" fill="none"><line x1="1427.6" y1="184.2" x2="1474.2" y2="326.5"/><line x1="1454.8" y1="321.2" x2="1474.2" y2="326.8"/><line x1="1481.6" y1="304" x2="1480.2" y2="325"/></g>
<polyline fill="none" stroke="#9c27b0" stroke-width="1.15" stroke-linejoin="round" points="6.5,699.6 14.1,695.9 26.1,685.6 37.1,688.8 49.1,690.1 61.1,686.3 72.1,685.3 84.1,692.4 96.1,695.9 108.1,684.3 119.1,673.1 131.1,663.8 143.1,654.8 154.1,663.1 166.1,662.8 178.1,636.5 189.1,633.0 201.1,630.5 213.1,629.0 224.1,627.5 236.1,623.8 248.1,613.5 260.1,611.8 271.1,618.3 283.1,626.3 295.1,624.8 306.1,624.0 318.1,623.3 330.1,632.8 341.1,644.0 353.1,640.8 365.1,637.0 376.1,644.5 388.1,632.8 400.1,625.3 412.1,618.5 423.1,618.0 435.1,632.8 447.1,640.0 458.1,653.1 470.1,645.8 482.1,642.5 493.1,631.0 505.1,651.6 517.1,642.5 528.1,665.6 540.1,656.3 552.1,655.1 564.1,651.6 575.1,655.1 587.1,647.1 599.1,655.1 610.1,648.8 622.1,652.8 634.1,656.8 645.1,649.8 657.1,673.6 669.1,657.6 680.1,661.1 692.1,671.6 704.1,665.3 716.1,660.1 727.1,666.1 739.1,673.3 751.1,691.9 762.1,687.1 774.1,674.3 786.1,674.3 797.1,686.3 809.1,675.6 821.1,673.6 832.1,683.1 844.1,684.1 856.1,675.1 868.1,682.6 879.1,667.8 891.1,665.3 903.1,671.8 914.1,665.6 926.1,673.1 938.1,671.1 949.1,679.6 961.1,680.6 973.1,709.4 984.1,699.4 996.1,699.9 1008.1,701.4 1020.1,709.4 1031.1,695.9 1043.1,703.4 1055.1,695.4 1066.1,671.8 1078.1,662.1 1090.1,657.8 1101.1,653.3 1113.1,641.3 1125.1,629.3 1136.1,627.5 1148.1,638.3 1160.1,638.0 1172.1,641.0 1183.1,637.5 1195.1,633.0 1207.1,644.0 1218.1,639.3 1230.1,641.3 1242.1,639.5 1253.1,661.1 1265.1,655.6 1277.1,644.5 1288.1,657.3 1300.1,658.8 1312.1,669.6 1324.1,655.6 1335.1,655.6 1347.1,658.6 1359.1,666.1 1370.1,672.3 1382.1,681.1 1394.1,675.1 1405.1,664.6 1417.1,667.8"/>
<g shape-rendering="crispEdges" fill="#ff1771">
<rect x="14" y="775" width="1" height="5"/>
<rect x="26" y="775" width="1" height="3"/>
<rect x="37" y="775" width="1" height="3"/>
<rect x="49" y="775" width="1" height="3"/>
<rect x="61" y="775" width="1" height="1"/>
<rect x="72" y="774" width="1" height="2"/>
<rect x="84" y="774" width="1" height="1"/>
<rect x="96" y="774" width="1" height="1"/>
<rect x="108" y="773" width="1" height="2"/>
<rect x="119" y="771" width="1" height="4"/>
<rect x="131" y="768" width="1" height="7"/>
<rect x="143" y="765" width="1" height="10"/>
<rect x="154" y="764" width="1" height="11"/>
<rect x="166" y="764" width="1" height="11"/>
<rect x="178" y="759" width="1" height="16"/>
<rect x="189" y="756" width="1" height="19"/>
<rect x="201" y="755" width="1" height="20"/>
<rect x="213" y="754" width="1" height="21"/>
<rect x="224" y="755" width="1" height="20"/>
<rect x="236" y="756" width="1" height="19"/>
<rect x="248" y="755" width="1" height="20"/>
<rect x="260" y="755" width="1" height="20"/>
<rect x="271" y="757" width="1" height="18"/>
<rect x="283" y="761" width="1" height="14"/>
<rect x="295" y="764" width="1" height="11"/>
<rect x="306" y="767" width="1" height="8"/>
<rect x="318" y="770" width="1" height="5"/>
<rect x="330" y="774" width="1" height="1"/>
<rect x="341" y="775" width="1" height="3"/>
<rect x="353" y="775" width="1" height="6"/>
<rect x="365" y="775" width="1" height="7"/>
<rect x="376" y="775" width="1" height="8"/>
<rect x="388" y="775" width="1" height="7"/>
<rect x="400" y="775" width="1" height="5"/>
<rect x="412" y="775" width="1" height="2"/>
<rect x="423" y="774" width="1" height="2"/>
<rect x="435" y="774" width="1" height="2"/>
<rect x="447" y="775" width="1" height="1"/>
<rect x="458" y="775" width="1" height="4"/>
<rect x="470" y="775" width="1" height="5"/>
<rect x="482" y="775" width="1" height="5"/>
<rect x="493" y="775" width="1" height="4"/>
<rect x="505" y="775" width="1" height="5"/>
<rect x="517" y="775" width="1" height="4"/>
<rect x="528" y="775" width="1" height="6"/>
<rect x="540" y="775" width="1" height="6"/>
<rect x="552" y="775" width="1" height="6"/>
<rect x="564" y="775" width="1" height="5"/>
<rect x="575" y="775" width="1" height="5"/>
<rect x="587" y="775" width="1" height="4"/>
<rect x="599" y="775" width="1" height="4"/>
<rect x="610" y="775" width="1" height="3"/>
<rect x="622" y="775" width="1" height="3"/>
<rect x="634" y="775" width="1" height="3"/>
<rect x="645" y="775" width="1" height="3"/>
<rect x="657" y="775" width="1" height="5"/>
<rect x="669" y="775" width="1" height="5"/>
<rect x="680" y="775" width="1" height="5"/>
<rect x="692" y="775" width="1" height="6"/>
<rect x="704" y="775" width="1" height="6"/>
<rect x="716" y="775" width="1" height="5"/>
<rect x="727" y="775" width="1" height="5"/>
<rect x="739" y="775" width="1" height="6"/>
<rect x="751" y="775" width="1" height="9"/>
<rect x="762" y="775" width="1" height="10"/>
<rect x="774" y="775" width="1" height="9"/>
<rect x="786" y="775" width="1" height="8"/>
<rect x="797" y="775" width="1" height="9"/>
<rect x="809" y="775" width="1" height="7"/>
<rect x="821" y="775" width="1" height="5"/>
<rect x="832" y="775" width="1" height="5"/>
<rect x="844" y="775" width="1" height="5"/>
<rect x="856" y="775" width="1" height="4"/>
<rect x="868" y="775" width="1" height="4"/>
<rect x="879" y="775" width="1" height="2"/>
<rect x="891" y="774" width="1" height="2"/>
<rect x="903" y="773" width="1" height="3"/>
<rect x="914" y="772" width="1" height="4"/>
<rect x="926" y="773" width="1" height="3"/>
<rect x="938" y="773" width="1" height="3"/>
<rect x="949" y="774" width="1" height="2"/>
<rect x="961" y="775" width="1" height="2"/>
<rect x="973" y="775" width="1" height="6"/>
<rect x="984" y="775" width="1" height="9"/>
<rect x="996" y="775" width="1" height="10"/>
<rect x="1008" y="775" width="1" height="10"/>
<rect x="1020" y="775" width="1" height="11"/>
<rect x="1031" y="775" width="1" height="10"/>
<rect x="1043" y="775" width="1" height="9"/>
<rect x="1055" y="775" width="1" height="7"/>
<rect x="1066" y="775" width="1" height="2"/>
<rect x="1078" y="771" width="1" height="5"/>
<rect x="1090" y="767" width="1" height="9"/>
<rect x="1101" y="764" width="1" height="12"/>
<rect x="1113" y="760" width="1" height="16"/>
<rect x="1125" y="755" width="1" height="21"/>
<rect x="1136" y="753" width="1" height="23"/>
<rect x="1148" y="754" width="1" height="22"/>
<rect x="1160" y="756" width="1" height="20"/>
<rect x="1172" y="759" width="1" height="17"/>
<rect x="1183" y="762" width="1" height="14"/>
<rect x="1195" y="764" width="1" height="12"/>
<rect x="1207" y="767" width="1" height="9"/>
<rect x="1218" y="769" width="1" height="7"/>
<rect x="1230" y="771" width="1" height="5"/>
<rect x="1242" y="773" width="1" height="3"/>
<rect x="1253" y="775" width="1" height="2"/>
<rect x="1265" y="775" width="1" height="4"/>
<rect x="1277" y="775" width="1" height="3"/>
<rect x="1288" y="775" width="1" height="4"/>
<rect x="1300" y="775" width="1" height="5"/>
<rect x="1312" y="775" width="1" height="7"/>
<rect x="1324" y="775" width="1" height="6"/>
<rect x="1335" y="775" width="1" height="5"/>
<rect x="1347" y="775" width="1" height="5"/>
<rect x="1359" y="775" width="1" height="6"/>
<rect x="1370" y="775" width="1" height="7"/>
<rect x="1382" y="775" width="1" height="8"/>
<rect x="1394" y="775" width="1" height="8"/>
<rect x="1405" y="775" width="1" height="7"/>
<rect x="1417" y="775" width="1" height="6"/>
</g>
<polyline fill="none" stroke="#2196f3" stroke-width="1.15" stroke-linejoin="round" points="7.0,796.5 14.5,797.2 50.1,796.0 72.6,794.2 96.1,794.7 108.1,793.5 119.6,790.5 131.4,786.7 143.2,781.7 154.7,778.9 166.4,776.7 178.2,769.2 189.7,761.4 201.5,755.7 213.2,751.4 224.7,747.7 236.5,743.9 248.3,738.2 259.8,733.6 271.5,730.6 283.3,729.9 294.8,729.6 306.6,729.6 318.4,730.1 329.9,731.9 341.6,734.4 353.4,736.7 364.9,738.2 376.7,740.4 388.4,740.7 399.9,739.7 411.7,737.4 423.5,736.4 435.0,736.7 446.7,738.2 447.0,739.2 458.3,741.9 470.0,743.4 481.8,744.4 493.1,743.4 505.1,744.9 516.8,744.9 528.1,748.4 540.1,749.9 552.1,750.9 563.9,751.4 575.1,752.4 587.2,752.2 598.9,752.9 610.2,752.9 622.2,753.4 634.0,754.4 645.2,754.7 657.0,758.2 669.0,758.2 680.3,759.2 692.0,761.4 704.0,762.4 715.8,762.4 727.3,763.4 739.1,765.2 750.8,769.7 762.4,772.9 774.1,773.4 785.9,774.2 797.4,776.2 809.2,776.4 820.9,776.4 832.4,777.9 844.2,779.2 856.0,778.9 868.0,779.4 880.0,778.2 891.3,776.4 903.0,775.9 914.3,774.9 926.3,774.9 938.1,774.7 949.6,775.7 961.3,776.7 973.1,782.0 984.4,785.5 996.4,787.7 1008.1,790.0 1019.7,792.7 1031.4,793.7 1043.2,795.0 1054.7,795.2 1066.5,791.0 1078.2,786.7 1089.7,782.7 1101.5,778.2 1113.3,772.7 1124.8,765.4 1135.8,758.7 1147.8,755.2 1159.8,752.4 1171.6,750.9 1183.3,749.4 1194.8,747.7 1200.0,747.9 1218.8,747.2 1230.5,747.2 1242.3,747.4 1253.3,749.9 1265.1,751.4 1277.1,751.2 1288.1,752.7 1300.1,754.4 1312.1,757.2 1324.1,757.4 1335.1,757.9 1347.2,758.7 1358.9,760.4 1370.4,762.7 1382.0,765.7 1394.0,767.4 1405.2,767.7 1417.0,768.4"/>
<polyline fill="none" stroke="#ff8c1a" stroke-width="1.15" stroke-linejoin="round" points="7.0,792.2 26.3,793.5 50.1,794.2 72.6,795.0 96.1,795.5 108.1,795.2 119.6,794.5 131.4,793.5 143.2,792.0 154.7,790.0 166.4,788.0 178.2,785.5 189.7,782.0 201.5,777.9 213.2,773.2 224.7,768.2 236.5,763.2 248.3,758.2 259.8,753.2 271.5,747.9 283.3,743.7 294.8,739.9 306.6,736.9 318.4,734.6 329.9,732.9 341.6,731.9 353.4,731.9 364.9,732.6 376.7,733.9 388.4,735.1 399.9,736.1 411.7,736.9 423.5,737.4 435.0,737.9 446.7,738.4 465.0,739.4 493.1,740.2 516.8,741.7 528.1,743.2 552.1,745.7 575.1,747.9 598.9,750.2 622.2,751.7 645.2,752.9 669.0,754.7 692.0,756.2 715.8,758.2 739.1,760.4 762.4,763.9 785.9,767.4 809.2,770.7 832.4,773.7 844.2,775.4 868.0,777.2 880.0,777.9 903.0,777.4 926.3,776.9 949.6,776.7 961.3,776.4 984.4,777.7 1008.1,780.4 1031.4,784.7 1054.7,789.0 1066.5,790.5 1078.2,791.2 1089.7,791.0 1101.5,790.0 1113.3,788.0 1124.8,784.7 1135.8,780.7 1147.8,776.4 1159.8,771.7 1171.6,767.2 1183.3,762.9 1194.8,759.2 1200.0,757.7 1218.8,752.9 1230.5,750.9 1242.3,749.7 1253.3,749.2 1265.1,748.9 1277.1,749.2 1288.1,749.7 1300.1,750.4 1312.1,751.4 1324.1,752.4 1335.1,753.4 1347.2,754.7 1358.9,755.7 1370.4,756.9 1382.0,758.7 1394.0,760.2 1405.2,761.7 1417.0,762.9"/>
<g shape-rendering="crispEdges" fill="#505050">
<rect x="6" y="43" width="1816" height="1"/>
<rect x="6" y="43" width="1" height="788"/>
<rect x="1821" y="43" width="1" height="788"/>
<rect x="6" y="830" width="1816" height="1"/>
<rect x="1763" y="43" width="1" height="788"/>
<rect x="6" y="605" width="1816" height="1"/>
<rect x="6" y="725" width="1816" height="1"/>
<rect x="6" y="802" width="1816" height="1"/>
<rect x="1764" y="50" width="4" height="1"/>
<rect x="1764" y="80" width="4" height="1"/>
<rect x="1764" y="110" width="4" height="1"/>
<rect x="1764" y="140" width="4" height="1"/>
<rect x="1764" y="170" width="4" height="1"/>
<rect x="1764" y="200" width="4" height="1"/>
<rect x="1764" y="230" width="4" height="1"/>
<rect x="1764" y="260" width="4" height="1"/>
<rect x="1764" y="290" width="4" height="1"/>
<rect x="1764" y="320" width="4" height="1"/>
<rect x="1764" y="350" width="4" height="1"/>
<rect x="1764" y="380" width="4" height="1"/>
<rect x="1764" y="410" width="4" height="1"/>
<rect x="1764" y="440" width="4" height="1"/>
<rect x="1764" y="470" width="4" height="1"/>
<rect x="1764" y="500" width="4" height="1"/>
<rect x="1764" y="530" width="4" height="1"/>
<rect x="1764" y="560" width="4" height="1"/>
<rect x="1764" y="590" width="4" height="1"/>
<rect x="1764" y="650" width="4" height="1"/>
<rect x="1764" y="695" width="4" height="1"/>
<rect x="1764" y="740" width="4" height="1"/>
<rect x="1764" y="775" width="4" height="1"/>
<rect x="108" y="803" width="1" height="4"/>
<rect x="248" y="803" width="1" height="4"/>
<rect x="388" y="803" width="1" height="4"/>
<rect x="528" y="803" width="1" height="4"/>
<rect x="669" y="803" width="1" height="4"/>
<rect x="809" y="803" width="1" height="4"/>
<rect x="949" y="803" width="1" height="4"/>
<rect x="1090" y="803" width="1" height="4"/>
<rect x="1230" y="803" width="1" height="4"/>
<rect x="1370" y="803" width="1" height="4"/>
<rect x="1511" y="803" width="1" height="4"/>
<rect x="1651" y="803" width="1" height="4"/>
<rect x="1756" y="803" width="1" height="4"/>
</g>
<text x="1773.3" y="54.3" font-size="11" fill="#454545" text-anchor="start" font-weight="normal" textLength="38" lengthAdjust="spacingAndGlyphs"  stroke="#454545" stroke-width="0.2">3400.00</text>
<text x="1773.3" y="84.3" font-size="11" fill="#454545" text-anchor="start" font-weight="normal" textLength="38" lengthAdjust="spacingAndGlyphs"  stroke="#454545" stroke-width="0.2">3375.00</text>
<text x="1773.3" y="114.3" font-size="11" fill="#454545" text-anchor="start" font-weight="normal" textLength="38" lengthAdjust="spacingAndGlyphs"  stroke="#454545" stroke-width="0.2">3350.00</text>
<text x="1773.3" y="144.3" font-size="11" fill="#454545" text-anchor="start" font-weight="normal" textLength="38" lengthAdjust="spacingAndGlyphs"  stroke="#454545" stroke-width="0.2">3325.00</text>
<text x="1773.3" y="174.3" font-size="11" fill="#454545" text-anchor="start" font-weight="normal" textLength="38" lengthAdjust="spacingAndGlyphs"  stroke="#454545" stroke-width="0.2">3300.00</text>
<text x="1773.3" y="204.3" font-size="11" fill="#454545" text-anchor="start" font-weight="normal" textLength="38" lengthAdjust="spacingAndGlyphs"  stroke="#454545" stroke-width="0.2">3275.00</text>
<text x="1773.3" y="234.3" font-size="11" fill="#454545" text-anchor="start" font-weight="normal" textLength="38" lengthAdjust="spacingAndGlyphs"  stroke="#454545" stroke-width="0.2">3250.00</text>
<text x="1773.3" y="264.3" font-size="11" fill="#454545" text-anchor="start" font-weight="normal" textLength="38" lengthAdjust="spacingAndGlyphs"  stroke="#454545" stroke-width="0.2">3225.00</text>
<text x="1773.3" y="294.3" font-size="11" fill="#454545" text-anchor="start" font-weight="normal" textLength="38" lengthAdjust="spacingAndGlyphs"  stroke="#454545" stroke-width="0.2">3200.00</text>
<text x="1773.3" y="324.3" font-size="11" fill="#454545" text-anchor="start" font-weight="normal" textLength="38" lengthAdjust="spacingAndGlyphs"  stroke="#454545" stroke-width="0.2">3175.00</text>
<text x="1773.3" y="354.3" font-size="11" fill="#454545" text-anchor="start" font-weight="normal" textLength="38" lengthAdjust="spacingAndGlyphs"  stroke="#454545" stroke-width="0.2">3150.00</text>
<text x="1773.3" y="384.3" font-size="11" fill="#454545" text-anchor="start" font-weight="normal" textLength="38" lengthAdjust="spacingAndGlyphs"  stroke="#454545" stroke-width="0.2">3125.00</text>
<text x="1773.3" y="414.3" font-size="11" fill="#454545" text-anchor="start" font-weight="normal" textLength="38" lengthAdjust="spacingAndGlyphs"  stroke="#454545" stroke-width="0.2">3100.00</text>
<text x="1773.3" y="444.3" font-size="11" fill="#454545" text-anchor="start" font-weight="normal" textLength="38" lengthAdjust="spacingAndGlyphs"  stroke="#454545" stroke-width="0.2">3075.00</text>
<text x="1773.3" y="474.3" font-size="11" fill="#454545" text-anchor="start" font-weight="normal" textLength="38" lengthAdjust="spacingAndGlyphs"  stroke="#454545" stroke-width="0.2">3050.00</text>
<text x="1773.3" y="504.3" font-size="11" fill="#454545" text-anchor="start" font-weight="normal" textLength="38" lengthAdjust="spacingAndGlyphs"  stroke="#454545" stroke-width="0.2">3025.00</text>
<text x="1773.3" y="534.3" font-size="11" fill="#454545" text-anchor="start" font-weight="normal" textLength="38" lengthAdjust="spacingAndGlyphs"  stroke="#454545" stroke-width="0.2">3000.00</text>
<text x="1773.3" y="564.3" font-size="11" fill="#454545" text-anchor="start" font-weight="normal" textLength="38" lengthAdjust="spacingAndGlyphs"  stroke="#454545" stroke-width="0.2">2975.00</text>
<text x="1773.3" y="594.3" font-size="11" fill="#454545" text-anchor="start" font-weight="normal" textLength="38" lengthAdjust="spacingAndGlyphs"  stroke="#454545" stroke-width="0.2">2950.00</text>
<text x="1772.8" y="654.3" font-size="11" fill="#454545" text-anchor="start" font-weight="normal" textLength="27.4" lengthAdjust="spacingAndGlyphs"  stroke="#454545" stroke-width="0.2">60.00</text>
<text x="1772.8" y="699.3" font-size="11" fill="#454545" text-anchor="start" font-weight="normal" textLength="27.4" lengthAdjust="spacingAndGlyphs"  stroke="#454545" stroke-width="0.2">40.00</text>
<text x="1772.8" y="744.3" font-size="11" fill="#454545" text-anchor="start" font-weight="normal" textLength="27.4" lengthAdjust="spacingAndGlyphs"  stroke="#454545" stroke-width="0.2">40.00</text>
<text x="1772.8" y="779.3" font-size="11" fill="#454545" text-anchor="start" font-weight="normal" textLength="21.4" lengthAdjust="spacingAndGlyphs"  stroke="#454545" stroke-width="0.2">0.00</text>
<rect x="1778.5" y="50.5" width="27" height="17" rx="3.5" fill="#fff" stroke="#dcdcdc" stroke-width="1"/>
<text x="1783" y="62.8" font-size="10.5" fill="#454545" text-anchor="start" font-weight="normal" textLength="18" lengthAdjust="spacingAndGlyphs"  stroke="#454545" stroke-width="0.2">USD</text>
<rect x="1763" y="138" width="54" height="28" rx="2.2" fill="#ff0000"/>
<rect x="1763" y="138" width="10" height="28" fill="#ff0000"/>
<rect x="1763" y="166" width="54" height="17" rx="2.2" fill="#4caf50"/>
<rect x="1763" y="166" width="10" height="17" fill="#4caf50"/>
<rect x="1763" y="360" width="54" height="17" rx="2.2" fill="#4caf50"/>
<rect x="1763" y="360" width="10" height="17" fill="#4caf50"/>
<rect x="1763" y="580" width="54" height="17" rx="2.2" fill="#4caf50"/>
<rect x="1763" y="580" width="10" height="17" fill="#4caf50"/>
<g shape-rendering="crispEdges" fill="#fff" fill-opacity="0.75"><rect x="1763" y="146" width="5" height="1"/><rect x="1763" y="174" width="5" height="1"/><rect x="1763" y="368" width="5" height="1"/><rect x="1763" y="588" width="5" height="1"/></g>
<text x="1773.3" y="150.8" font-size="11" fill="#fff" text-anchor="start" font-weight="bold" textLength="38" lengthAdjust="spacingAndGlyphs" >3320.00</text>
<text x="1773.3" y="164" font-size="11" fill="#ffd6d6" text-anchor="start" font-weight="bold" textLength="27" lengthAdjust="spacingAndGlyphs" >55:24</text>
<text x="1773.3" y="178.5" font-size="11" fill="#fff" text-anchor="start" font-weight="bold" textLength="38" lengthAdjust="spacingAndGlyphs" >3299.75</text>
<text x="1773.3" y="372.8" font-size="11" fill="#fff" text-anchor="start" font-weight="bold" textLength="38" lengthAdjust="spacingAndGlyphs" >3134.68</text>
<text x="1773.3" y="592.8" font-size="11" fill="#fff" text-anchor="start" font-weight="bold" textLength="38" lengthAdjust="spacingAndGlyphs" >2951.32</text>
<text x="1754.5" y="70.8" font-size="12" fill="#808080" text-anchor="end" font-weight="normal" textLength="57" lengthAdjust="spacingAndGlyphs"  stroke="#808080" stroke-width="0.25">0(3379.86)</text>
<text x="1754.5" y="141.8" font-size="12" fill="#d9303a" text-anchor="end" font-weight="normal" textLength="80" lengthAdjust="spacingAndGlyphs"  stroke="#d9303a" stroke-width="0.25">0.236(3320.94)</text>
<text x="1754.5" y="220.8" font-size="12" fill="#4a1030" text-anchor="end" font-weight="normal" textLength="67" lengthAdjust="spacingAndGlyphs"  stroke="#4a1030" stroke-width="0.25">0.5(3255.02)</text>
<text x="1754.5" y="255.8" font-size="12" fill="#22c98f" text-anchor="end" font-weight="normal" textLength="80" lengthAdjust="spacingAndGlyphs"  stroke="#22c98f" stroke-width="0.25">0.618(3225.56)</text>
<text x="1754" y="300" font-size="12" fill="#4aa8e0" text-anchor="end" font-weight="normal" textLength="80" lengthAdjust="spacingAndGlyphs"  stroke="#4aa8e0" stroke-width="0.25">0.764(3189.10)</text>
<text x="1754.5" y="299.8" font-size="12" fill="#ff0000" text-anchor="end" font-weight="normal" textLength="80" lengthAdjust="spacingAndGlyphs"  stroke="#ff0000" stroke-width="0.25">0.764(3189.10)</text>
<text x="1754.5" y="370.8" font-size="12" fill="#4aa8e0" text-anchor="end" font-weight="normal" textLength="57" lengthAdjust="spacingAndGlyphs"  stroke="#4aa8e0" stroke-width="0.25">1(3130.18)</text>
<text x="1754.5" y="440.8" font-size="12" fill="#a020d0" text-anchor="end" font-weight="normal" textLength="80" lengthAdjust="spacingAndGlyphs"  stroke="#a020d0" stroke-width="0.25">1.236(3071.25)</text>
<text x="1754.5" y="555.8" font-size="12" fill="#2020d8" text-anchor="end" font-weight="normal" textLength="80" lengthAdjust="spacingAndGlyphs"  stroke="#2020d8" stroke-width="0.25">1.618(2975.87)</text>
<text x="108.5" y="819.2" font-size="11" fill="#454545" text-anchor="middle" font-weight="normal" textLength="26.6" lengthAdjust="spacingAndGlyphs"  stroke="#454545" stroke-width="0.2">12:00</text>
<text x="248.5" y="819.2" font-size="11" fill="#454545" text-anchor="middle" font-weight="normal" textLength="11.3" lengthAdjust="spacingAndGlyphs"  stroke="#454545" stroke-width="0.2">20</text>
<text x="388.5" y="819.2" font-size="11" fill="#454545" text-anchor="middle" font-weight="normal" textLength="26.6" lengthAdjust="spacingAndGlyphs"  stroke="#454545" stroke-width="0.2">12:00</text>
<text x="528.5" y="819.2" font-size="11" fill="#454545" text-anchor="middle" font-weight="normal" textLength="11.3" lengthAdjust="spacingAndGlyphs"  stroke="#454545" stroke-width="0.2">21</text>
<text x="669.5" y="819.2" font-size="11" fill="#454545" text-anchor="middle" font-weight="normal" textLength="26.6" lengthAdjust="spacingAndGlyphs"  stroke="#454545" stroke-width="0.2">12:00</text>
<text x="809.5" y="819.2" font-size="11" fill="#454545" text-anchor="middle" font-weight="normal" textLength="11.3" lengthAdjust="spacingAndGlyphs"  stroke="#454545" stroke-width="0.2">22</text>
<text x="949.5" y="819.2" font-size="11" fill="#454545" text-anchor="middle" font-weight="normal" textLength="26.6" lengthAdjust="spacingAndGlyphs"  stroke="#454545" stroke-width="0.2">12:00</text>
<text x="1090.5" y="819.2" font-size="11" fill="#454545" text-anchor="middle" font-weight="normal" textLength="11.3" lengthAdjust="spacingAndGlyphs"  stroke="#454545" stroke-width="0.2">23</text>
<text x="1230.5" y="819.2" font-size="11" fill="#454545" text-anchor="middle" font-weight="normal" textLength="26.6" lengthAdjust="spacingAndGlyphs"  stroke="#454545" stroke-width="0.2">12:00</text>
<text x="1370.5" y="819.2" font-size="11" fill="#454545" text-anchor="middle" font-weight="normal" textLength="11.3" lengthAdjust="spacingAndGlyphs"  stroke="#454545" stroke-width="0.2">24</text>
<text x="1511.5" y="819.2" font-size="11" fill="#454545" text-anchor="middle" font-weight="normal" textLength="26.6" lengthAdjust="spacingAndGlyphs"  stroke="#454545" stroke-width="0.2">12:00</text>
<text x="1651.5" y="819.2" font-size="11" fill="#454545" text-anchor="middle" font-weight="normal" textLength="11.3" lengthAdjust="spacingAndGlyphs"  stroke="#454545" stroke-width="0.2">25</text>
<clipPath id="tc"><rect x="7" y="803" width="1756" height="27"/></clipPath>
<g clip-path="url(#tc)">
<text x="1756.5" y="819.2" font-size="11" fill="#454545" text-anchor="middle" font-weight="normal" textLength="26.6" lengthAdjust="spacingAndGlyphs"  stroke="#454545" stroke-width="0.2">09:00</text>
</g>
<text x="15" y="65" font-size="12.5" fill="#505050" text-anchor="start" font-weight="bold" textLength="209" lengthAdjust="spacingAndGlyphs" >Ethereum / U.S. Dollar, 1h, KRAKEN</text>
<text x="15" y="82" font-size="12.5" fill="#4a4a4a" text-anchor="start" font-weight="normal" textLength="94" lengthAdjust="spacingAndGlyphs"  stroke="#4a4a4a" stroke-width="0.25">EMA (100, close)</text>
<text x="15" y="627" font-size="12.5" fill="#4a4a4a" text-anchor="start" font-weight="normal" textLength="78" lengthAdjust="spacingAndGlyphs"  stroke="#4a4a4a" stroke-width="0.25">RSI (14, close)</text>
<text x="15" y="747" font-size="12.5" fill="#4a4a4a" text-anchor="start" font-weight="normal" textLength="131" lengthAdjust="spacingAndGlyphs"  stroke="#4a4a4a" stroke-width="0.25">MACD (12, 26, close, 9)</text>
<text x="6" y="16.5" font-size="13" fill="#1c1c1c" text-anchor="start" font-weight="bold" textLength="75.5" lengthAdjust="spacingAndGlyphs" >aayushjindal</text>
<text x="85.5" y="16.5" font-size="13" fill="#1c1c1c" text-anchor="start" font-weight="normal" textLength="348.5" lengthAdjust="spacingAndGlyphs"  stroke="#1c1c1c" stroke-width="0.25">published on TradingView.com, August 24, 2021 04:04:41 UTC</text>
<text x="6" y="33.7" font-size="13" fill="#1c1c1c" text-anchor="start" font-weight="bold" textLength="121" lengthAdjust="spacingAndGlyphs" >KRAKEN:ETHUSD, 60</text>
<text x="132.5" y="33.7" font-size="13" fill="#1c1c1c" text-anchor="start" font-weight="normal" textLength="44.7" lengthAdjust="spacingAndGlyphs"  stroke="#1c1c1c" stroke-width="0.25">3319.98</text>
<path d="M181.2,25.3 L190.7,25.3 L186,34.5 Z" fill="#ef5350"/>
<text x="195.3" y="33.7" font-size="13" fill="#1c1c1c" text-anchor="start" font-weight="normal" textLength="84.5" lengthAdjust="spacingAndGlyphs"  stroke="#1c1c1c" stroke-width="0.25">−2.71 (−0.08%)</text>
<text x="284" y="33.7" font-size="13" fill="#1c1c1c" text-anchor="start" font-weight="bold" textLength="12" lengthAdjust="spacingAndGlyphs" >O:</text>
<text x="348" y="33.7" font-size="13" fill="#1c1c1c" text-anchor="start" font-weight="bold" textLength="12.5" lengthAdjust="spacingAndGlyphs" >H:</text>
<text x="412" y="33.7" font-size="13" fill="#1c1c1c" text-anchor="start" font-weight="bold" textLength="10" lengthAdjust="spacingAndGlyphs" >L:</text>
<text x="473" y="33.7" font-size="13" fill="#1c1c1c" text-anchor="start" font-weight="bold" textLength="11" lengthAdjust="spacingAndGlyphs" >C:</text>
<text x="298" y="33.7" font-size="13" fill="#ef5350" text-anchor="start" font-weight="normal" textLength="45.6" lengthAdjust="spacingAndGlyphs" >3325.02</text>
<text x="362" y="33.7" font-size="13" fill="#ef5350" text-anchor="start" font-weight="normal" textLength="45.6" lengthAdjust="spacingAndGlyphs" >3325.03</text>
<text x="423" y="33.7" font-size="13" fill="#ef5350" text-anchor="start" font-weight="normal" textLength="45.6" lengthAdjust="spacingAndGlyphs" >3318.04</text>
<text x="485" y="33.7" font-size="13" fill="#ef5350" text-anchor="start" font-weight="normal" textLength="45.6" lengthAdjust="spacingAndGlyphs" >3320.00</text>
<g fill="#161a25"><path d="M6.1,842.3 H14.9 V853.6 H10.2 V846.9 H6.1 Z"/><circle cx="18.9" cy="844.5" r="2.1"/><path d="M22.2,842.3 H28.5 L25.1,853.6 H19.0 Z"/></g>
<text x="33.1" y="853.6" font-size="15.8" fill="#161a25" text-anchor="start" font-weight="bold" textLength="91.7" lengthAdjust="spacingAndGlyphs" >TradingView</text>
</svg></body></html>
